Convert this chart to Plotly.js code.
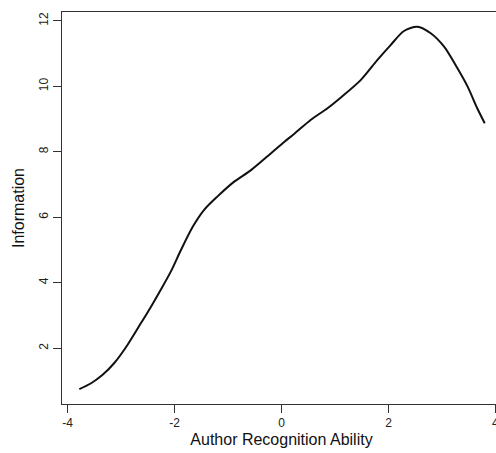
<!DOCTYPE html>
<html>
<head>
<meta charset="utf-8">
<script src="https://cdn.plot.ly/plotly-3.0.1.min.js"></script>
<style>
html,body{margin:0;padding:0;overflow:hidden;background:#fff;}
#chart{width:501px;height:453px;}
</style>
</head>
<body>
<div id="chart"></div>
<script>
var ability = [-3.78,-3.56,-3.35,-3.13,-2.88,-2.63,-2.44,-2.26,-2.07,-1.88,-1.66,-1.45,-1.20,-0.89,-0.57,-0.20,0.05,0.24,0.55,0.86,1.11,1.48,1.79,2.04,2.29,2.54,2.79,3.04,3.29,3.48,3.66,3.80];
var information = [0.75,0.93,1.18,1.54,2.10,2.76,3.27,3.78,4.34,5.00,5.71,6.22,6.63,7.08,7.44,7.95,8.30,8.55,8.98,9.33,9.66,10.19,10.80,11.26,11.69,11.82,11.62,11.21,10.55,9.99,9.33,8.87];
var xTicks = [-4,-2,0,2,4];
var yTicks = [2,4,6,8,10,12];

var fam = '"Liberation Sans", Arial, sans-serif';
var tickFont = {family:fam, size:12, color:'#222'};
var titleFont = {family:fam, size:16, color:'#111'};

Plotly.newPlot('chart', [{
  x: ability, y: information, type:'scatter', mode:'lines',
  line:{color:'#111', width:2, shape:'spline', smoothing:0.8},
  hoverinfo:'skip'
}], {
  width:501, height:453,
  margin:{l:62, r:0, t:12, b:49},
  paper_bgcolor:'#fff', plot_bgcolor:'#fff',
  showlegend:false,
  font: tickFont,
  xaxis:{
    range:[-4.104,4.104], tickvals:xTicks, ticktext:xTicks.map(String),
    ticks:'outside', ticklen:8, tickcolor:'#333', tickwidth:1,
    showline:true, mirror:true, linecolor:'#333', linewidth:1,
    showgrid:false, zeroline:false, tickfont:tickFont,
    title:{text:'Author Recognition Ability', font:titleFont, standoff:4}
  },
  yaxis:{
    range:[0.296,12.27], tickvals:yTicks, ticktext:yTicks.map(String),
    ticks:'outside', ticklen:8, tickcolor:'#333', tickwidth:1, tickangle:-90,
    showline:true, mirror:true, linecolor:'#333', linewidth:1,
    showgrid:false, zeroline:false, tickfont:tickFont,
    title:{text:'Information', font:titleFont, standoff:8}
  }
}, {staticPlot:true, displayModeBar:false});
</script>
</body>
</html>
